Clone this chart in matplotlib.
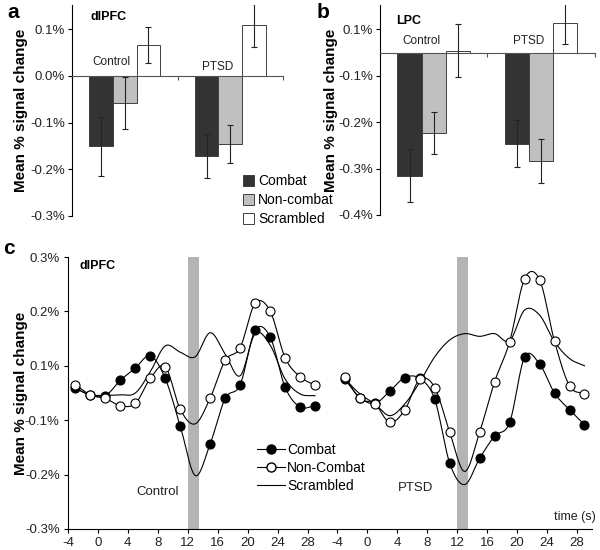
import numpy as np
import matplotlib
matplotlib.use("Agg")
import matplotlib.pyplot as plt
from matplotlib.patches import Patch
from matplotlib.lines import Line2D

plt.rcParams['font.family'] = ['Liberation Sans', 'DejaVu Sans']

# ---- panels a / b : mean % signal change ----
groups = ['Control', 'PTSD']
conditions = ['Combat', 'Non-combat', 'Scrambled']

dlpfc_control = [-0.151, -0.0585, 0.066]
dlpfc_control_err = [0.064, 0.056, 0.038]
dlpfc_ptsd = [-0.171, -0.146, 0.109]
dlpfc_ptsd_err = [0.047, 0.041, 0.046]

lpc_control = [-0.265, -0.173, 0.004]
lpc_control_err = [0.057, 0.045, 0.057]
lpc_ptsd = [-0.196, -0.234, 0.063]
lpc_ptsd_err = [0.050, 0.048, 0.045]

# ---- panel c : dlPFC time courses ----
time_s = [-3, -1, 1, 3, 5, 7, 9, 11, 13, 15, 17, 19, 21, 23, 25, 27, 29]
ctrl_combat = [0.011, -0.005, -0.006, 0.028, 0.055, 0.082, 0.032, -0.073, -0.182,
               -0.112, -0.012, 0.018, 0.138, 0.124, 0.013, -0.031, -0.028]
ctrl_noncombat = [0.018, -0.004, -0.012, -0.028, -0.023, 0.032, 0.058, -0.036, -0.068,
                  -0.011, 0.072, 0.100, 0.198, 0.181, 0.078, 0.036, 0.017]
ctrl_scrambled = [0.010, -0.004, -0.005, -0.004, 0.000, 0.047, 0.104, 0.090, 0.080,
                  0.133, 0.086, 0.038, 0.131, 0.106, 0.031, -0.002, -0.006]
ptsd_combat = [0.030, -0.010, -0.023, 0.004, 0.034, 0.032, -0.014, -0.155, -0.202,
               -0.144, -0.095, -0.065, 0.079, 0.064, 0.000, -0.037, -0.070]
ptsd_noncombat = [0.035, -0.012, -0.024, -0.065, -0.037, 0.030, 0.012, -0.087, -0.173,
                  -0.086, 0.025, 0.113, 0.252, 0.250, 0.114, 0.016, -0.002]
ptsd_scrambled = [0.031, -0.002, -0.024, -0.050, -0.024, 0.024, 0.080, 0.117, 0.131,
                  0.125, 0.131, 0.115, 0.183, 0.172, 0.113, 0.076, 0.060]
stim_on, stim_off = 12, 13.5
seg_offset = 36   # second (PTSD) time axis is drawn to the right of the first
time_ticks = [-4, 0, 4, 8, 12, 16, 20, 24, 28]

bar_colors = ['#333333', '#c0c0c0', 'white']
edge = '#404040'


def smooth(x, y, n=20):
    # Catmull-Rom style smoothing (like a spreadsheet "smoothed line")
    x = np.asarray(x, float)
    y = np.asarray(y, float)
    m = np.gradient(y, x)
    xs, ys = [], []
    for i in range(len(x) - 1):
        h = x[i + 1] - x[i]
        s = np.linspace(0, 1, n, endpoint=False)
        h00 = 2 * s**3 - 3 * s**2 + 1
        h10 = s**3 - 2 * s**2 + s
        h01 = -2 * s**3 + 3 * s**2
        h11 = s**3 - s**2
        xs.append(x[i] + s * h)
        ys.append(h00 * y[i] + h10 * h * m[i] + h01 * y[i + 1] + h11 * h * m[i + 1])
    xs.append([x[-1]])
    ys.append([y[-1]])
    return np.concatenate(xs), np.concatenate(ys)


def bar_panel(ax, ctrl, ctrl_err, ptsd, ptsd_err, ylim, yticks, ylabels, title,
              title_pos, lab_pos, labelpad):
    w = 0.225
    for gi, (vals, errs) in enumerate([(ctrl, ctrl_err), (ptsd, ptsd_err)]):
        for ci in range(3):
            x = gi + (ci - 1) * w
            ax.bar(x, vals[ci], w, color=bar_colors[ci], edgecolor=edge,
                   linewidth=0.7, zorder=2)
            ax.errorbar(x, vals[ci], yerr=errs[ci], color='#222222', lw=0.8,
                        capsize=2, capthick=0.8, zorder=3)
    ax.set_xlim(-0.5, 1.5)
    ax.set_ylim(*ylim)
    ax.set_yticks(yticks)
    ax.set_yticklabels(ylabels, fontsize=9.5, color='#222222')
    ax.spines['top'].set_visible(False)
    ax.spines['right'].set_visible(False)
    ax.spines['bottom'].set_position(('data', 0))
    ax.spines['bottom'].set_color('#555555')
    ax.set_xticks([-0.5, 0.5, 1.5])
    ax.set_xticklabels([])
    ax.tick_params(axis='x', length=3, direction='out', color='#555555')
    ax.tick_params(axis='y', length=3, pad=2)
    ax.set_ylabel('Mean % signal change', fontsize=11, fontweight='bold',
                  labelpad=labelpad)
    ax.text(title_pos[0], title_pos[1], title, fontsize=9, fontweight='bold',
            va='center')
    for g, (gx, gy) in zip(groups, lab_pos):
        ax.text(gx, gy, g, fontsize=8.5, ha='center', va='center',
                color='#222222')


fig = plt.figure(figsize=(6, 5.5), dpi=100)

ax_a = fig.add_axes([0.12, 0.6073, 0.3517, 0.3836])
bar_panel(ax_a, dlpfc_control, dlpfc_control_err, dlpfc_ptsd, dlpfc_ptsd_err,
          (-0.3, 0.152), [0.1, 0.0, -0.1, -0.2, -0.3],
          ['0.1%', '0.0%', '-0.1%', '-0.2%', '-0.3%'], 'dlPFC', (-0.32, 0.127),
          [(-0.13, 0.03), (0.88, 0.02)], 1.5)

handles = [Patch(facecolor=c, edgecolor=edge, linewidth=0.7) for c in bar_colors]
ax_a.legend(handles, conditions, loc='upper left', bbox_to_anchor=(0.405, 0.683),
            bbox_transform=fig.transFigure, frameon=False, borderpad=0,
            borderaxespad=0, handlelength=0.8, handleheight=0.8,
            handletextpad=0.3, labelspacing=0.35, fontsize=10)

ax_b = fig.add_axes([0.6333, 0.6091, 0.3583, 0.3818])
bar_panel(ax_b, lpc_control, lpc_control_err, lpc_ptsd, lpc_ptsd_err,
          (-0.35, 0.1026), [0.05, -0.05, -0.15, -0.25, -0.35],
          ['0.1%', '-0.1%', '-0.2%', '-0.3%', '-0.4%'], 'LPC', (-0.35, 0.068),
          [(-0.11, 0.025), (0.88, 0.025)], 0)

# ---- panel c ----
ax_c = fig.add_axes([0.1133, 0.0382, 0.8733, 0.4945])
for off, comb, nonc, scr in [(0, ctrl_combat, ctrl_noncombat, ctrl_scrambled),
                             (seg_offset, ptsd_combat, ptsd_noncombat, ptsd_scrambled)]:
    t = np.asarray(time_s) + off
    ax_c.axvspan(stim_on + off, stim_off + off, ymin=0, ymax=1.0,
                 color='#b4b4b4', lw=0, zorder=1)
    for vals in (scr, comb, nonc):
        xs, ys = smooth(t, vals)
        ax_c.plot(xs, ys, color='black', lw=0.8, zorder=3)
    vis = (t < stim_on + off) | (t > stim_off + off)
    ax_c.plot(t[vis], np.asarray(comb)[vis], 'o', ms=6.5, mfc='black',
              mec='black', mew=0.8, zorder=4)
    ax_c.plot(t[vis], np.asarray(nonc)[vis], 'o', ms=6.5, mfc='white',
              mec='black', mew=0.8, zorder=5)

ax_c.set_xlim(-4, 66)
ax_c.set_ylim(-0.3, 0.3)
ax_c.set_yticks([0.3, 0.18, 0.06, -0.06, -0.18, -0.3])
ax_c.set_yticklabels(['0.3%', '0.2%', '0.1%', '-0.1%', '-0.2%', '-0.3%'],
                     fontsize=9.5, color='#222222')
ax_c.set_xticks(time_ticks + [v + seg_offset for v in time_ticks])
ax_c.set_xticklabels([str(v) for v in time_ticks] * 2, fontsize=9.5,
                     color='#222222')
ax_c.tick_params(length=3, pad=3)
ax_c.spines['top'].set_visible(False)
ax_c.spines['right'].set_visible(False)
ax_c.set_ylabel('Mean % signal change', fontsize=11, fontweight='bold',
                labelpad=-2)
ax_c.text(-2.4, 0.28, 'dlPFC', fontsize=9, fontweight='bold', va='center')
ax_c.text(8, -0.218, 'Control', fontsize=9.5, ha='center', va='center',
          color='#222222')
ax_c.text(42.5, -0.209, 'PTSD', fontsize=9.5, ha='center', va='center',
          color='#222222')
ax_c.text(66.5, -0.273, 'time (s)', fontsize=9, ha='right', va='center',
          color='#222222', clip_on=False)

leg_handles = [Line2D([], [], color='black', lw=0.8, marker='o', ms=6.5,
                      mfc='black', mec='black'),
               Line2D([], [], color='black', lw=0.8, marker='o', ms=6.5,
                      mfc='white', mec='black'),
               Line2D([], [], color='black', lw=0.8)]
ax_c.legend(leg_handles, ['Combat', 'Non-Combat', 'Scrambled'], loc='upper left',
            bbox_to_anchor=(0.428, 0.195), bbox_transform=fig.transFigure,
            frameon=False, borderpad=0, borderaxespad=0, handlelength=2.0,
            handletextpad=0.2, labelspacing=0.3, fontsize=10)

# panel letters
fig.text(0.012, 0.995, 'a', fontsize=15, fontweight='bold', va='top')
fig.text(0.528, 0.995, 'b', fontsize=15, fontweight='bold', va='top')
fig.text(0.005, 0.565, 'c', fontsize=15, fontweight='bold', va='top')

fig.savefig('out.png', dpi=100)
